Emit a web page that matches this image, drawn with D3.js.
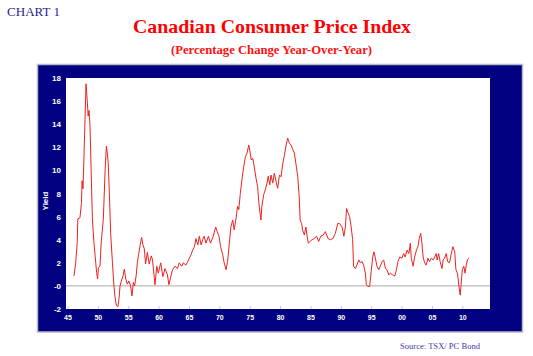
<!DOCTYPE html>
<html><head><meta charset="utf-8">
<script src="https://cdn.jsdelivr.net/npm/d3@7"></script>
<style>body{margin:0;background:#fff}svg{display:block}</style>
</head><body>
<script>
// Decimal years and year-over-year CPI change (%)
const years = [1946.07,1946.35,1946.6,1946.7,1947.05,1947.3,1947.4,1947.55,1947.7,1947.9,1948.05,1948.27,1948.4,1948.55,1948.7,1948.9,1949.1,1949.35,1949.65,1949.8,1949.95,1950.1,1950.35,1950.55,1950.9,1951.2,1951.4,1951.55,1951.7,1951.95,1952.1,1952.4,1952.65,1952.8,1953.05,1953.3,1953.5,1953.65,1953.85,1954.15,1954.35,1954.6,1954.85,1955.1,1955.4,1955.6,1955.85,1956.05,1956.3,1956.5,1956.7,1956.95,1957.2,1957.4,1957.65,1957.85,1958.15,1958.45,1958.8,1959.0,1959.4,1959.7,1959.95,1960.35,1960.7,1961.05,1961.45,1961.7,1962.0,1962.3,1962.7,1963.1,1963.4,1963.8,1964.05,1964.5,1964.8,1965.05,1965.35,1965.6,1965.9,1966.15,1966.45,1966.7,1967.0,1967.25,1967.5,1967.8,1968.2,1968.55,1969.0,1969.4,1969.65,1969.95,1970.2,1970.55,1970.8,1971.1,1971.35,1971.65,1971.9,1972.2,1972.45,1972.75,1973.0,1973.2,1973.45,1973.75,1974.0,1974.3,1974.55,1974.85,1975.05,1975.25,1975.5,1975.75,1976.05,1976.3,1976.5,1976.7,1976.85,1977.0,1977.3,1977.55,1977.85,1978.05,1978.3,1978.5,1978.8,1979.05,1979.35,1979.6,1979.9,1980.15,1980.45,1980.7,1981.0,1981.25,1981.55,1981.8,1982.1,1982.35,1982.6,1982.9,1983.15,1983.3,1983.55,1983.7,1984.0,1984.25,1984.45,1984.65,1984.95,1985.25,1985.6,1986.0,1986.35,1986.7,1987.1,1987.45,1987.9,1988.3,1988.7,1989.1,1989.5,1989.8,1990.2,1990.5,1990.75,1990.95,1991.2,1991.45,1991.7,1991.95,1992.1,1992.4,1992.65,1992.95,1993.2,1993.5,1993.75,1994.05,1994.2,1994.45,1994.75,1995.0,1995.25,1995.45,1995.65,1995.95,1996.25,1996.5,1996.8,1997.05,1997.35,1997.6,1997.9,1998.15,1998.55,1998.9,1999.15,1999.4,1999.7,2000.05,2000.35,2000.6,2000.9,2001.2,2001.45,2001.6,2001.9,2002.15,2002.45,2002.7,2002.9,2003.15,2003.35,2003.55,2003.8,2004.05,2004.35,2004.6,2004.9,2005.2,2005.45,2005.7,2005.85,2006.1,2006.35,2006.65,2006.85,2007.1,2007.35,2007.6,2007.9,2008.15,2008.45,2008.75,2008.95,2009.2,2009.45,2009.65,2009.8,2010.0,2010.25,2010.45,2010.65,2010.85,2011.05];
const cpi = [0.87,2.0,3.75,5.8,5.9,7.2,9.1,8.4,11.0,14.7,17.5,15.9,14.7,15.2,13.9,9.8,5.8,3.75,2.0,1.15,0.6,1.6,1.7,3.75,5.8,10.1,12.1,11.5,10.7,7.2,4.6,2.0,0.0,-0.87,-1.7,-1.8,-1.0,0.0,0.4,0.87,1.45,0.6,0.15,0.43,0.0,-0.87,0.3,0.0,0.87,2.0,2.7,3.5,4.2,3.6,3.2,1.9,2.9,1.9,2.6,2.25,0.1,1.7,1.1,2.0,0.8,1.5,0.95,0.1,0.8,1.4,1.7,1.5,2.0,1.7,2.0,1.8,2.1,2.4,2.7,3.1,3.4,4.1,3.55,4.3,3.55,4.0,4.3,3.7,4.3,3.7,4.3,5.1,4.7,4.3,3.4,2.7,2.0,1.4,2.1,3.7,5.1,5.7,4.85,5.85,6.9,6.6,8.0,9.3,10.3,11.2,11.5,12.2,11.6,10.9,11.05,10.3,9.3,8.6,7.2,6.3,5.7,6.9,7.9,8.3,8.9,9.5,8.75,9.6,8.9,9.75,9.0,8.45,9.6,9.45,10.6,11.3,12.2,12.8,12.35,12.2,11.8,11.5,10.6,9.5,7.7,5.7,5.4,4.85,4.4,5.1,4.3,3.7,3.85,4.0,4.1,4.3,3.85,4.3,4.4,4.7,4.1,4.0,4.1,4.55,5.4,5.4,5.1,4.3,5.1,6.7,6.3,6.0,5.1,4.0,1.7,1.5,1.8,2.25,2.0,2.1,1.8,1.1,0.1,-0.05,-0.05,1.25,2.5,2.95,2.5,1.7,1.4,1.7,2.1,2.25,1.5,1.4,0.95,1.1,0.95,0.87,1.4,2.1,2.5,2.4,2.8,2.5,3.1,2.8,3.7,2.4,1.7,2.5,3.1,3.4,4.1,4.55,3.7,2.5,2.0,1.8,2.4,2.1,2.4,2.25,2.5,2.8,2.25,2.8,2.1,1.5,2.25,2.4,2.8,2.1,2.0,2.7,3.4,2.95,1.4,1.1,-0.05,-0.8,0.1,1.4,1.7,1.1,1.8,2.25,2.4];
const yTicks = [-2,0,2,4,6,8,10,12,14,16,18];
const yTickLabels = ["-2","-0","2","4","6","8","10","12","14","16","18"];
const xTicks = [1945,1950,1955,1960,1965,1970,1975,1980,1985,1990,1995,2000,2005,2010];
const xTickLabels = ["45","50","55","60","65","70","75","80","85","90","95","00","05","10"];

const W = 533, H = 356;
const svg = d3.select("body").append("svg").attr("width", W).attr("height", H);

const plot = {left: 66, right: 490, top: 78, bottom: 309};
const x = d3.scaleLinear().domain([1945, 2010]).range([67.5, 462.3]);
const y = d3.scaleLinear().domain([-2, 18]).range([plot.bottom, plot.top]);

// Titles
svg.append("text").attr("x", 7).attr("y", 16).attr("font-family", "Liberation Serif, serif")
  .attr("font-size", 13).attr("fill", "#1f1f8f").attr("textLength", 53).attr("lengthAdjust", "spacingAndGlyphs")
  .text("CHART 1");
svg.append("text").attr("x", 272).attr("y", 33).attr("text-anchor", "middle")
  .attr("font-family", "Liberation Serif, serif").attr("font-weight", "bold").attr("font-size", 18)
  .attr("fill", "#ff0000").attr("textLength", 278).attr("lengthAdjust", "spacingAndGlyphs")
  .text("Canadian Consumer Price Index");
svg.append("text").attr("x", 271.5).attr("y", 54).attr("text-anchor", "middle")
  .attr("font-family", "Liberation Serif, serif").attr("font-weight", "bold").attr("font-size", 11.5)
  .attr("fill", "#ff1010").attr("textLength", 201).attr("lengthAdjust", "spacingAndGlyphs")
  .text("(Percentage Change Year-Over-Year)");

// Frame
svg.append("rect").attr("x", 37.5).attr("y", 64.5).attr("width", 485).attr("height", 267.5)
  .attr("fill", "#000080").attr("stroke", "#b8b8c4").attr("stroke-width", 1.5);
svg.append("rect").attr("x", plot.left).attr("y", plot.top)
  .attr("width", plot.right - plot.left).attr("height", plot.bottom - plot.top).attr("fill", "#ffffff");

// Y axis labels
const yAxis = d3.axisLeft(y).tickValues(yTicks).tickSize(0).tickPadding(4)
  .tickFormat((d, i) => yTickLabels[i]);
const gy = svg.append("g").attr("transform", `translate(${plot.left - 1},0)`).call(yAxis);
gy.select(".domain").remove();
gy.selectAll("text").attr("fill", "#ffffff").attr("font-family", "Liberation Sans, Arial, sans-serif")
  .attr("font-weight", "bold").attr("font-size", 8);

// X axis
const xAxis = d3.axisBottom(x).tickValues(xTicks).tickSize(3).tickPadding(3)
  .tickFormat((d, i) => xTickLabels[i]);
const gx = svg.append("g").attr("transform", `translate(0,${plot.bottom})`).call(xAxis);
gx.select(".domain").remove();
gx.selectAll("line").attr("stroke", "#c8c8d8").attr("transform", "translate(0,-3)");
gx.selectAll("text").attr("fill", "#ffffff").attr("font-family", "Liberation Sans, Arial, sans-serif")
  .attr("font-weight", "bold").attr("font-size", 7);

// Y axis title
svg.append("text").attr("transform", "translate(48,201) rotate(-90)").attr("text-anchor", "middle")
  .attr("font-family", "Liberation Sans, Arial, sans-serif").attr("font-weight", "bold").attr("font-size", 8)
  .attr("fill", "#ffffff").text("Yield");

// Zero line
svg.append("line").attr("x1", plot.left).attr("x2", plot.right).attr("y1", y(0)).attr("y2", y(0))
  .attr("stroke", "#a8a8a8").attr("stroke-width", 1);

// Data line
const data = years.map((t, i) => ({t, v: cpi[i]}));
svg.append("path").datum(data)
  .attr("d", d3.line().x(d => x(d.t)).y(d => y(d.v)))
  .attr("fill", "none").attr("stroke", "#f02020").attr("stroke-width", 1);

// Source
svg.append("text").attr("x", 400).attr("y", 349).attr("font-family", "Liberation Serif, serif")
  .attr("font-size", 9).attr("fill", "#3a3aa8").attr("textLength", 80).attr("lengthAdjust", "spacingAndGlyphs")
  .text("Source: TSX/ PC Bond");
</script>
</body></html>
